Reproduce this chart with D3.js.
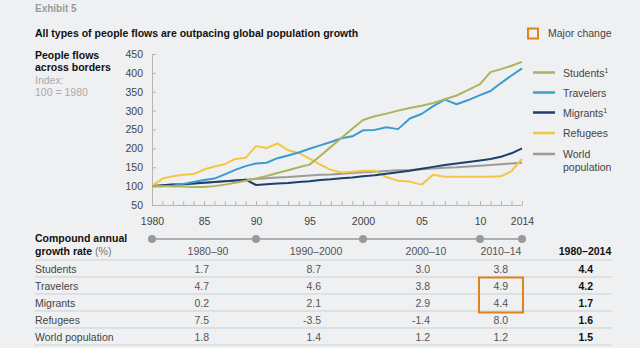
<!DOCTYPE html>
<html>
<head>
<meta charset="utf-8">
<script src="https://cdn.jsdelivr.net/npm/d3@7"></script>
<style>
  body { margin: 0; background: #eff0f2; }
  svg { font-family: "Liberation Sans", Arial, sans-serif; }
  .axis path, .axis line { stroke: #b5b5b5; }
  .axis text { fill: #444; font-size: 10.5px; }
</style>
</head>
<body>
<svg id="chart" width="640" height="348"></svg>
<script>
// years 1980..2014
var years = d3.range(1980, 2015);

var students  = [100,100,99,99,98,98,100,104,109,114,120,127,135,142,150,157,180,204,228,252,275,285,292,300,307,313,320,330,340,355,370,402,410,419,429];
var travelers = [100,100,101,106,111,116,120,131,143,153,160,162,174,181,189,199,208,217,227,232,248,249,256,251,279,291,312,329,317,328,341,352,373,393,412];
var migrants  = [100,102,104,105,107,109,111,113,115,117,103,105,107,108,111,113,116,118,121,123,126,129,133,137,141,146,151,156,160,164,168,172,178,187,200];
var refugees  = [100,120,126,130,132,144,152,158,172,175,206,201,213,195,188,173,157,143,136,138,141,141,124,114,112,104,130,125,125,125,125,125,126,140,172];
var worldPop  = [100,102,104,105,107,109,111,113,115,117,119,121,123,124,126,128,130,131,133,135,137,138,140,142,143,145,147,149,150,152,154,156,158,160,162];

var seriesNames  = ["Students", "Travelers", "Migrants", "Refugees", "World population"];
var seriesColors = ["#adb35f", "#3a9ccc", "#1d3f6c", "#f1c83f", "#9b9b9b"];
var seriesSup    = ["1", "", "1", "", ""];

var yTicks = [50,100,150,200,250,300,350,400,450];
var xLabelYears = [1980,1985,1990,1995,2000,2005,2010,2014];
var xLabels = ["1980","85","90","95","2000","05","10","2014"];
var periodYears = [1980,1990,2000,2010,2014];

// table
var periods  = ["1980–90", "1990–2000", "2000–10", "2010–14", "1980–2014"];
var rowNames = ["Students", "Travelers", "Migrants", "Refugees", "World population"];
var cagr = [
  ["1.7", "8.7", "3.0", "3.8", "4.4"],
  ["4.7", "4.6", "3.8", "4.9", "4.2"],
  ["0.2", "2.1", "2.9", "4.4", "1.7"],
  ["7.5", "-3.5", "-1.4", "8.0", "1.6"],
  ["1.8", "1.4", "1.2", "1.2", "1.5"]
];

var svg = d3.select("#chart");

// headers
svg.append("text").attr("x", 35).attr("y", 12)
    .style("font-size", "10px").style("font-weight", "bold").style("fill", "#9a9a9a")
    .text("Exhibit 5");
svg.append("text").attr("x", 35).attr("y", 37)
    .style("font-size", "10.5px").style("font-weight", "bold").style("fill", "#111")
    .text("All types of people flows are outpacing global population growth");

svg.append("rect").attr("x", 528).attr("y", 28.5).attr("width", 10).attr("height", 10)
    .style("fill", "none").style("stroke", "#e0821e").style("stroke-width", 2);
svg.append("text").attr("x", 548).attr("y", 37)
    .style("font-size", "10.5px").style("fill", "#444").text("Major change");

var ylab = svg.append("text").attr("x", 35).style("font-size", "10.5px");
ylab.append("tspan").attr("x", 35).attr("y", 59).style("font-weight", "bold").style("fill", "#111").text("People flows");
ylab.append("tspan").attr("x", 35).attr("y", 71).style("font-weight", "bold").style("fill", "#111").text("across borders");
ylab.append("tspan").attr("x", 35).attr("y", 84).style("fill", "#aaa").text("Index:");
ylab.append("tspan").attr("x", 35).attr("y", 96).style("fill", "#aaa").text("100 = 1980");

// scales
var x = d3.scaleLinear()
    .domain(periodYears)
    .range([152, 256, 363, 480, 522]);

var y = d3.scaleLinear()
    .domain([50, 450])
    .range([205, 54]);

// y axis
svg.append("g")
    .attr("class", "axis")
    .attr("transform", "translate(152,0)")
    .call(d3.axisLeft(y).tickValues(yTicks).tickSize(-4).tickSizeOuter(0).tickPadding(9));

// x axis minor ticks
svg.append("g")
    .attr("class", "axis")
    .attr("transform", "translate(0,205)")
    .call(d3.axisBottom(x).tickValues(years).tickSize(-4).tickSizeOuter(0).tickFormat(""));

// x axis labels
svg.append("g")
    .attr("class", "axis")
    .attr("transform", "translate(0,205)")
    .call(d3.axisBottom(x).tickValues(xLabelYears).tickSize(0).tickPadding(13)
        .tickFormat(function(d, i) { return xLabels[i]; }))
    .call(function(g) { g.select(".domain").remove(); });

// lines
var allSeries = [students, travelers, migrants, refugees, worldPop];
var line = d3.line()
    .x(function(d, i) { return x(years[i]); })
    .y(function(d) { return y(d); });

var drawOrder = [4, 3, 2, 1, 0];
drawOrder.forEach(function(k) {
    svg.append("path")
        .datum(allSeries[k])
        .attr("d", line)
        .style("fill", "none")
        .style("stroke", seriesColors[k])
        .style("stroke-width", 2)
        .style("stroke-linejoin", "round");
});

// legend
var legY = [72.5, 92.5, 112.5, 133, 154];
seriesNames.forEach(function(name, k) {
    svg.append("line")
        .attr("x1", 533).attr("x2", 555)
        .attr("y1", legY[k]).attr("y2", legY[k])
        .style("stroke", seriesColors[k]).style("stroke-width", 2.5);
    var t = svg.append("text").attr("x", 563).attr("y", legY[k] + 4)
        .style("font-size", "10.5px").style("fill", "#444");
    if (name == "World population") {
        t.append("tspan").attr("x", 563).text("World");
        t.append("tspan").attr("x", 563).attr("dy", 13).text("population");
    } else {
        t.append("tspan").text(name);
        if (seriesSup[k]) {
            t.append("tspan").attr("dy", -4).style("font-size", "7px").text(seriesSup[k]);
        }
    }
});

// period timeline
svg.append("line")
    .attr("x1", x(1980)).attr("x2", x(2014))
    .attr("y1", 239).attr("y2", 239)
    .style("stroke", "#999").style("stroke-width", 1.5);
svg.selectAll(".pdot")
    .data(periodYears)
    .enter().append("circle")
    .attr("class", "pdot")
    .attr("cx", function(d) { return x(d); })
    .attr("cy", 239)
    .attr("r", 4)
    .style("fill", "#999");

// table
var tl = svg.append("text").attr("x", 35).style("font-size", "10.5px").style("fill", "#111");
tl.append("tspan").attr("x", 35).attr("y", 242).style("font-weight", "bold").text("Compound annual");
tl.append("tspan").attr("x", 35).attr("y", 255).style("font-weight", "bold").text("growth rate");
tl.append("tspan").style("fill", "#777").text(" (%)");

var headX = [208, 316, 426, 501, 585];
var valX  = [209, 321, 430, 508, 593];

periods.forEach(function(p, j) {
    svg.append("text")
        .attr("x", headX[j]).attr("y", 255)
        .attr("text-anchor", "middle")
        .style("font-size", "10.5px")
        .style("fill", j == 4 ? "#111" : "#555")
        .style("font-weight", j == 4 ? "bold" : "normal")
        .text(p);
});

var rowTop = 260, rowH = 17;
svg.append("line").attr("x1", 35).attr("x2", 612).attr("y1", rowTop).attr("y2", rowTop)
    .style("stroke", "#cfcfcf");
rowNames.forEach(function(r, i) {
    var yb = rowTop + rowH * (i + 1);
    svg.append("line").attr("x1", 35).attr("x2", 612).attr("y1", yb).attr("y2", yb)
        .style("stroke", "#cfcfcf");
    svg.append("text").attr("x", 35).attr("y", yb - 4.5)
        .style("font-size", "10.5px").style("fill", "#444").text(r);
    cagr[i].forEach(function(v, j) {
        svg.append("text")
            .attr("x", valX[j]).attr("y", yb - 4.5)
            .attr("text-anchor", "end")
            .style("font-size", "10.5px")
            .style("fill", j == 4 ? "#111" : "#555")
            .style("font-weight", j == 4 ? "bold" : "normal")
            .text(v);
    });
});

// major change box around 2010-14 travelers & migrants
svg.append("rect")
    .attr("x", 479).attr("y", rowTop + rowH + 0.5)
    .attr("width", 44).attr("height", rowH * 2 + 1)
    .style("fill", "none").style("stroke", "#e0821e").style("stroke-width", 2);
</script>
</body>
</html>
